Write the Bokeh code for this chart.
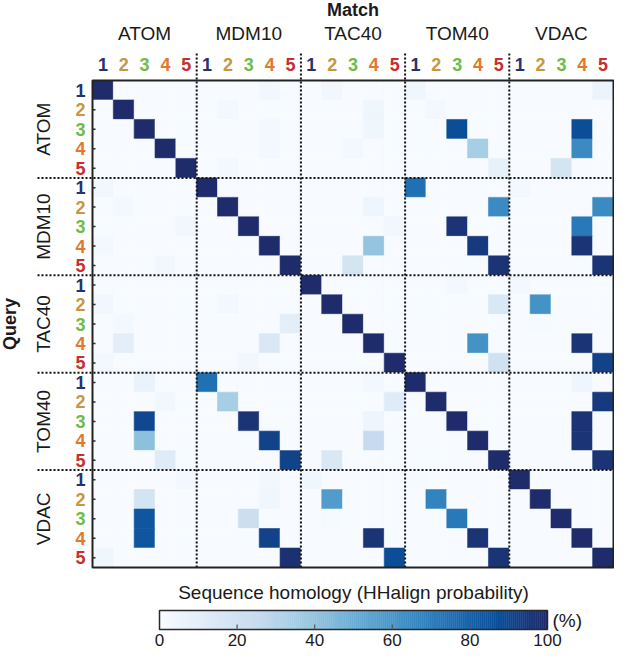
import numpy as np
from bokeh.plotting import figure
from bokeh.models import ColumnDataSource, LinearColorMapper, Range1d
from bokeh.embed import file_html
from bokeh.resources import INLINE
from bokeh.core.properties import value

# ---------------- data ----------------
groups = ["ATOM", "MDM10", "TAC40", "TOM40", "VDAC"]
members = ["1", "2", "3", "4", "5"]
member_colors = ["#26326c", "#c9973b", "#6cbc48", "#e3772d", "#c92e2c"]

# rows = query (group, member 1..5), columns = match (25 = 5 groups x 5 members)
atom_q = [
    [100, 0, 0, 0, 0, 0, 0, 0, 3, 0, 0, 3, 0, 0, 0, 4, 0, 0, 0, 0, 0, 0, 0, 0, 6],
    [0, 100, 0, 0, 0, 0, 2, 0, 0, 0, 0, 0, 0, 4, 0, 0, 2, 0, 0, 0, 0, 0, 0, 0, 0],
    [0, 0, 100, 0, 0, 0, 0, 0, 2, 0, 0, 0, 0, 4, 0, 0, 0, 88, 0, 0, 0, 0, 0, 88, 0],
    [0, 0, 0, 100, 0, 0, 0, 0, 2, 0, 0, 0, 2, 0, 0, 0, 0, 0, 35, 0, 0, 0, 0, 65, 0],
    [0, 0, 0, 0, 100, 0, 2, 0, 0, 0, 0, 0, 0, 0, 0, 0, 0, 0, 0, 8, 0, 0, 18, 0, 0],
]
mdm10_q = [
    [3, 0, 0, 0, 0, 100, 0, 0, 0, 0, 0, 0, 0, 0, 0, 75, 0, 0, 0, 0, 2, 0, 0, 0, 0],
    [0, 2, 0, 0, 0, 0, 100, 0, 0, 0, 0, 0, 0, 5, 0, 0, 0, 0, 0, 65, 0, 0, 0, 0, 65],
    [0, 0, 0, 0, 3, 0, 0, 100, 0, 0, 0, 0, 0, 0, 3, 0, 0, 97, 0, 0, 0, 0, 0, 72, 0],
    [2, 0, 0, 0, 0, 0, 0, 0, 100, 0, 0, 0, 0, 40, 0, 0, 0, 0, 95, 0, 0, 0, 0, 97, 0],
    [0, 0, 0, 3, 0, 0, 0, 0, 0, 100, 0, 0, 18, 0, 0, 0, 0, 0, 0, 97, 0, 0, 0, 0, 97],
]
tac40_q = [
    [0, 0, 0, 0, 0, 0, 0, 0, 0, 0, 100, 0, 0, 0, 0, 0, 0, 2, 0, 0, 2, 0, 0, 0, 0],
    [3, 0, 0, 0, 0, 0, 2, 0, 0, 0, 0, 100, 0, 0, 0, 0, 0, 0, 0, 15, 0, 62, 0, 0, 0],
    [0, 2, 0, 0, 0, 0, 0, 0, 0, 10, 0, 0, 100, 0, 0, 0, 0, 0, 0, 0, 0, 1, 0, 0, 0],
    [0, 10, 0, 0, 0, 0, 0, 0, 15, 0, 0, 0, 0, 100, 0, 0, 0, 0, 62, 0, 0, 0, 0, 97, 0],
    [2, 0, 0, 0, 0, 0, 0, 3, 0, 0, 0, 0, 0, 0, 100, 0, 0, 0, 0, 20, 0, 0, 0, 0, 92],
]
tom40_q = [
    [0, 0, 7, 0, 0, 75, 0, 0, 0, 0, 0, 0, 0, 2, 0, 100, 0, 0, 0, 0, 0, 0, 0, 5, 0],
    [0, 0, 0, 3, 0, 0, 35, 0, 0, 0, 0, 0, 0, 0, 12, 0, 100, 0, 0, 0, 0, 0, 0, 0, 95],
    [0, 0, 90, 0, 0, 0, 0, 97, 0, 0, 0, 0, 0, 5, 0, 0, 0, 100, 0, 0, 0, 0, 0, 97, 0],
    [0, 0, 42, 0, 0, 0, 0, 0, 92, 0, 0, 0, 0, 25, 0, 0, 0, 0, 100, 0, 0, 0, 0, 97, 0],
    [0, 0, 0, 12, 0, 0, 0, 0, 0, 92, 0, 15, 0, 0, 0, 0, 0, 0, 0, 100, 0, 0, 0, 0, 97],
]
vdac_q = [
    [0, 0, 0, 0, 2, 0, 0, 0, 3, 0, 4, 0, 0, 0, 0, 1, 0, 0, 0, 0, 100, 0, 0, 0, 0],
    [0, 0, 18, 0, 0, 0, 0, 0, 4, 0, 0, 58, 0, 0, 0, 0, 68, 0, 0, 0, 0, 100, 0, 0, 0],
    [0, 0, 85, 0, 0, 0, 0, 22, 0, 0, 0, 1, 0, 0, 0, 0, 0, 72, 0, 0, 0, 0, 100, 0, 0],
    [0, 0, 85, 0, 0, 0, 0, 0, 92, 0, 0, 0, 0, 97, 0, 0, 0, 0, 97, 0, 0, 0, 0, 100, 0],
    [4, 0, 0, 0, 0, 0, 0, 0, 0, 98, 0, 0, 0, 0, 88, 0, 0, 0, 0, 97, 0, 0, 0, 0, 100],
]
query_blocks = [atom_q, mdm10_q, tac40_q, tom40_q, vdac_q]

cbar_ticks = [0, 20, 40, 60, 80, 100]
cbar_title = "Sequence homology (HHalign probability)"
cbar_unit = "(%)"

# ---------------- palette (Blues-like, navy top) ----------------
stops = [(0.0, "#f7fbff"), (0.125, "#deebf7"), (0.25, "#c6dbef"), (0.375, "#9ecae1"),
         (0.5, "#6baed6"), (0.625, "#4292c6"), (0.75, "#2171b5"), (0.875, "#0b4f9a"),
         (1.0, "#1f2c6b")]
def _rgb(h):
    return [int(h[i:i + 2], 16) for i in (1, 3, 5)]
sp = np.array([s[0] for s in stops])
sc = np.array([_rgb(s[1]) for s in stops], dtype=float)
tt = np.linspace(0, 1, 256)
palette = ["#%02x%02x%02x" % tuple(int(round(np.interp(t, sp, sc[:, k]))) for k in range(3)) for t in tt]
mapper = LinearColorMapper(palette=palette, low=0, high=100)

# ---------------- layout (pixels) ----------------
W, H = 614, 654
X0, X1 = 92, 613
Y0, Y1 = 80, 567
n = len(groups) * len(members)
CW = (X1 - X0) / n
CH = (Y1 - Y0) / n
def px(x):
    return (x - X0) / CW
def py(y):
    return (y - Y0) / CH

p = figure(width=W, height=H, output_backend="svg", toolbar_location=None,
           x_range=Range1d(px(0), px(W)), y_range=Range1d(py(H), py(0)),
           x_axis_location=None, y_axis_location=None, min_border=0)
p.grid.visible = False
p.outline_line_color = None
p.background_fill_color = "white"
p.border_fill_color = "white"

# ---------------- cells ----------------
xs, ys, vs = [], [], []
for gi, block in enumerate(query_blocks):
    for mi, row in enumerate(block):
        r = gi * len(members) + mi
        for c, v in enumerate(row):
            xs.append(c + 0.5)
            ys.append(r + 0.5)
            vs.append(v)
src = ColumnDataSource(dict(x=xs, y=ys, v=vs))
p.rect(x="x", y="y", width=1, height=1, source=src,
       fill_color={"field": "v", "transform": mapper},
       line_color={"field": "v", "transform": mapper}, line_width=0.6)

# group separators (dotted)
bounds = [k * len(members) for k in range(1, len(groups))]
p.segment(x0=bounds, y0=[py(53)] * len(bounds), x1=bounds, y1=[n] * len(bounds),
          line_color="#111111", line_width=2, line_dash="2 2")
p.segment(x0=[px(37)] * len(bounds), y0=bounds, x1=[n] * len(bounds), y1=bounds,
          line_color="#111111", line_width=2, line_dash="2 2")

# frame
p.quad(left=[0], right=[n], top=[0], bottom=[n], fill_color=None,
       line_color="#222222", line_width=2)
# small left ticks
rows_c = [r + 0.5 for r in range(n)]
p.segment(x0=[0] * n, y0=rows_c, x1=[3 / CW] * n, y1=rows_c, line_color="#2a2a2a", line_width=1.5)

FONT = value("Liberation Sans")

# column numbers and group labels
col_x = [c + 0.5 for c in range(n)]
col_t = [members[c % len(members)] for c in range(n)]
col_col = [member_colors[c % len(members)] for c in range(n)]
p.text(x=col_x, y=[py(64)] * n, text=col_t, text_color=col_col, text_font=FONT,
       text_font_style="bold", text_font_size="18px", text_align="center", text_baseline="middle")
p.text(x=[px(80)] * n, y=rows_c, text=col_t, text_color=col_col, text_font=FONT,
       text_font_style="bold", text_font_size="18px", text_align="center", text_baseline="middle")

gc = [k * len(members) + len(members) / 2 for k in range(len(groups))]
p.text(x=gc, y=[py(33)] * len(groups), text=groups, text_color="#1a1a1a", text_font=FONT,
       text_font_size="19px", text_align="center", text_baseline="middle")
p.text(x=[px(43)] * len(groups), y=gc, text=groups, text_color="#1a1a1a", text_font=FONT,
       text_font_size="19px", text_align="center", text_baseline="middle", angle=np.pi / 2)

p.text(x=[n / 2], y=[py(9)], text=["Match"], text_color="#1a1a1a", text_font=FONT,
       text_font_style="bold", text_font_size="18px", text_align="center", text_baseline="middle")
p.text(x=[px(9)], y=[n / 2], text=["Query"], text_color="#1a1a1a", text_font=FONT,
       text_font_style="bold", text_font_size="18px", text_align="center", text_baseline="middle",
       angle=np.pi / 2)

# ---------------- colour bar ----------------
CBX0, CBX1 = 159, 547
CBY0, CBY1 = 610, 629
nseg = 200
edges = np.linspace(0, 100, nseg + 1)
mids = (edges[:-1] + edges[1:]) / 2
cb = ColumnDataSource(dict(
    left=[px(CBX0 + e / 100 * (CBX1 - CBX0)) for e in edges[:-1]],
    right=[px(CBX0 + e / 100 * (CBX1 - CBX0)) for e in edges[1:]],
    top=[py(CBY0)] * nseg, bottom=[py(CBY1)] * nseg, v=list(mids)))
p.quad(left="left", right="right", top="top", bottom="bottom", source=cb,
       fill_color={"field": "v", "transform": mapper},
       line_color={"field": "v", "transform": mapper}, line_width=0.5)
p.quad(left=[px(CBX0)], right=[px(CBX1)], top=[py(CBY0)], bottom=[py(CBY1)],
       fill_color=None, line_color="#2a2a2a", line_width=1.5)
tick_x = [px(CBX0 + t / 100 * (CBX1 - CBX0)) for t in cbar_ticks]
inner = tick_x[1:-1]
p.segment(x0=inner, y0=[py(CBY1)] * len(inner), x1=inner, y1=[py(CBY1 - 5)] * len(inner),
          line_color="#555555", line_width=1.2)
p.text(x=tick_x, y=[py(639)] * len(cbar_ticks), text=[str(t) for t in cbar_ticks],
       text_color="#1a1a1a", text_font=FONT, text_font_size="17px",
       text_align="center", text_baseline="middle")
p.text(x=[px((CBX0 + CBX1) / 2)], y=[py(592)], text=[cbar_title], text_color="#1a1a1a",
       text_font=FONT, text_font_size="19px", text_align="center", text_baseline="middle")
p.text(x=[px(CBX1 + 5)], y=[py(620)], text=[cbar_unit], text_color="#1a1a1a",
       text_font=FONT, text_font_size="19px", text_align="left", text_baseline="middle")

open("out.html", "w").write(file_html(p, INLINE))
